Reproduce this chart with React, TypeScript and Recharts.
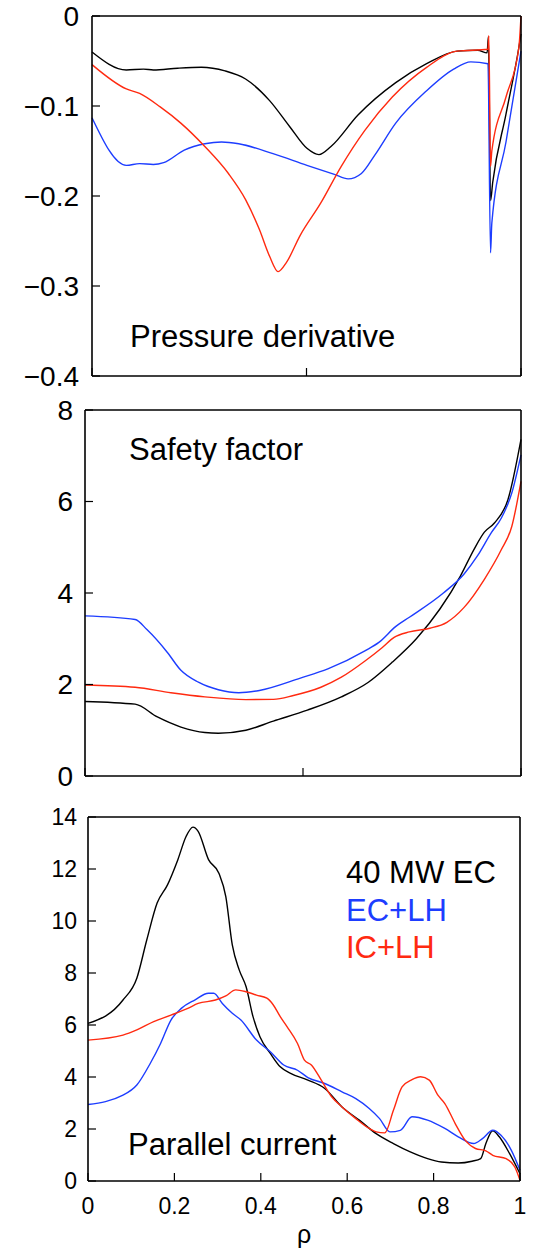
import React from 'react'
import { LineChart, Line, XAxis, YAxis } from 'recharts'

// pressure derivative
const pdRhoK = [0, 0.08, 0.12, 0.143, 0.2, 0.255, 0.31, 0.358, 0.414, 0.461, 0.501, 0.529, 0.557, 0.62, 0.708, 0.78, 0.851, 0.899, 0.921, 0.924, 0.929, 0.934, 0.965, 0.995, 1.0]
const pdK = [-0.040, -0.060, -0.059, -0.060, -0.058, -0.057, -0.061, -0.070, -0.094, -0.123, -0.147, -0.154, -0.145, -0.110, -0.074, -0.053, -0.039, -0.038, -0.041, -0.023, -0.205, -0.185, -0.109, -0.035, -0.02]
const pdRhoB = [0, 0.08, 0.111, 0.143, 0.167, 0.215, 0.263, 0.302, 0.342, 0.422, 0.501, 0.565, 0.597, 0.628, 0.66, 0.708, 0.78, 0.843, 0.883, 0.923, 0.929, 0.932, 0.965, 1.0]
const pdB = [-0.113, -0.166, -0.164, -0.165, -0.163, -0.149, -0.142, -0.140, -0.142, -0.153, -0.166, -0.176, -0.181, -0.175, -0.154, -0.119, -0.083, -0.059, -0.051, -0.053, -0.263, -0.23, -0.14, -0.039]
const pdRhoR = [0, 0.08, 0.111, 0.159, 0.207, 0.263, 0.318, 0.358, 0.39, 0.414, 0.434, 0.453, 0.485, 0.533, 0.581, 0.636, 0.7, 0.78, 0.851, 0.923, 0.925, 0.929, 0.932, 0.965, 0.995, 1.0]
const pdR = [-0.054, -0.081, -0.086, -0.101, -0.119, -0.145, -0.175, -0.204, -0.237, -0.267, -0.284, -0.274, -0.244, -0.208, -0.167, -0.127, -0.090, -0.057, -0.039, -0.037, -0.022, -0.167, -0.15, -0.09, -0.035, 0]

// safety factor
const qRhoK = [0, 0.115, 0.166, 0.22, 0.275, 0.306, 0.369, 0.432, 0.51, 0.588, 0.65, 0.705, 0.76, 0.814, 0.861, 0.892, 0.916, 0.939, 0.97, 1.0]
const qK = [1.63, 1.57, 1.29, 1.07, 0.95, 0.935, 1.0, 1.2, 1.44, 1.73, 2.05, 2.49, 3.0, 3.65, 4.37, 4.95, 5.33, 5.53, 6.04, 7.36]
const qRhoB = [0, 0.115, 0.142, 0.189, 0.22, 0.26, 0.306, 0.353, 0.4, 0.494, 0.557, 0.643, 0.674, 0.713, 0.744, 0.822, 0.869, 0.9, 0.932, 0.955, 0.979, 1.0]
const qB = [3.5, 3.42, 3.2, 2.7, 2.31, 2.05, 1.885, 1.82, 1.87, 2.14, 2.34, 2.74, 2.92, 3.27, 3.47, 4.0, 4.41, 4.81, 5.32, 5.64, 6.19, 7.02]
const qRhoR = [0, 0.115, 0.197, 0.275, 0.369, 0.432, 0.478, 0.541, 0.588, 0.643, 0.682, 0.709, 0.744, 0.791, 0.83, 0.869, 0.916, 0.955, 0.979, 1.0]
const qR = [1.99, 1.94, 1.82, 1.73, 1.67, 1.675, 1.76, 1.94, 2.16, 2.52, 2.81, 3.03, 3.15, 3.23, 3.36, 3.68, 4.3, 4.95, 5.46, 6.44]

// parallel current
const jRhoK = [0, 0.081, 0.113, 0.136, 0.16, 0.184, 0.208, 0.227, 0.243, 0.255, 0.279, 0.303, 0.319, 0.334, 0.35, 0.366, 0.382, 0.398, 0.422, 0.445, 0.469, 0.509, 0.548, 0.588, 0.628, 0.667, 0.707, 0.746, 0.786, 0.818, 0.857, 0.889, 0.909, 0.921, 0.937, 0.952, 0.976, 1.0]
const jK = [6.06, 6.96, 7.8, 9.27, 10.69, 11.39, 12.36, 13.25, 13.61, 13.45, 12.36, 11.84, 10.94, 9.08, 8.12, 7.47, 6.32, 5.55, 4.91, 4.39, 4.14, 3.88, 3.56, 2.85, 2.34, 1.82, 1.44, 1.12, 0.86, 0.73, 0.69, 0.76, 0.86, 1.44, 1.93, 1.7, 1.05, 0.28]
const jRhoB = [0, 0.081, 0.113, 0.144, 0.168, 0.192, 0.216, 0.247, 0.279, 0.291, 0.311, 0.334, 0.354, 0.39, 0.422, 0.453, 0.485, 0.509, 0.548, 0.588, 0.62, 0.651, 0.675, 0.699, 0.723, 0.75, 0.786, 0.826, 0.857, 0.893, 0.913, 0.937, 0.956, 0.98, 1.0]
const jB = [2.94, 3.3, 3.69, 4.52, 5.29, 6.19, 6.64, 6.96, 7.22, 7.22, 6.83, 6.45, 6.19, 5.42, 4.97, 4.46, 4.26, 3.98, 3.75, 3.43, 3.17, 2.79, 2.4, 1.89, 1.95, 2.47, 2.34, 2.02, 1.7, 1.44, 1.63, 1.95, 1.76, 1.18, 0.41]
const jRhoR = [0, 0.081, 0.113, 0.152, 0.192, 0.231, 0.255, 0.295, 0.319, 0.342, 0.366, 0.39, 0.414, 0.429, 0.445, 0.461, 0.485, 0.501, 0.517, 0.54, 0.564, 0.588, 0.62, 0.651, 0.667, 0.687, 0.707, 0.727, 0.75, 0.77, 0.79, 0.81, 0.826, 0.85, 0.873, 0.897, 0.921, 0.937, 0.968, 0.988, 1.0]
const jR = [5.42, 5.61, 5.81, 6.13, 6.38, 6.64, 6.83, 6.96, 7.12, 7.35, 7.28, 7.15, 7.03, 6.77, 6.32, 5.93, 5.29, 4.65, 4.46, 3.88, 3.24, 2.85, 2.4, 2.02, 1.89, 1.85, 2.72, 3.62, 3.9, 4.01, 3.88, 3.3, 2.98, 2.21, 1.57, 1.25, 1.16, 0.99, 0.86, 0.54, 0.03]

const pdTicks = [0, -0.1, -0.2, -0.3, -0.4]
const qTicks = [0, 2, 4, 6, 8]
const jTicks = [0, 2, 4, 6, 8, 10, 12, 14]
const coarseX = [0, 0.5, 1]
const fineX = [0, 0.2, 0.4, 0.6, 0.8, 1]

const BLACK = '#000000'
const BLUE = '#1d3dff'
const RED = '#ff2a10'
const FONT = '"Liberation Sans", Arial, Helvetica, sans-serif'

const pts = (xs: number[], ys: number[]) => xs.map((x, i) => ({ x, y: ys[i] }))
const fmt = (v: number) => (v < 0 ? '\u2212' + String(-v) : String(v))
const noLabel = () => <g />

interface PanelProps {
  top: number
  height: number
  margin: { top: number; right: number; bottom: number; left: number }
  yDomain: [number, number]
  yTicks: number[]
  xTicks: number[]
  yFont: number
  yMargin: number
  xLabels?: boolean
  series: { data: { x: number; y: number }[]; color: string }[]
}

function Panel({ top, height, margin, yDomain, yTicks, xTicks, yFont, yMargin, xLabels, series }: PanelProps) {
  const axisLine = { stroke: '#000', strokeWidth: 1.6 }
  const tickLine = { stroke: '#000', strokeWidth: 1.2 }
  return (
    <div style={{ position: 'absolute', left: 0, top }}>
      <LineChart width={536} height={height} margin={margin} style={{ overflow: 'visible' }}>
        <XAxis
          xAxisId="b" type="number" dataKey="x" domain={[0, 1]} ticks={xTicks}
          orientation="bottom" height={xLabels ? 64 : 1} tickSize={-8}
          tickMargin={xLabels ? 25 : 0} axisLine={axisLine} tickLine={tickLine}
          tick={xLabels ? { fill: '#000', fontSize: 23 } : noLabel}
          tickFormatter={fmt} interval={0}
          label={xLabels ? { value: '\u03c1', position: 'insideBottom', offset: 2, fill: '#000', fontSize: 25 } : undefined}
        />
        <XAxis
          xAxisId="t" type="number" dataKey="x" domain={[0, 1]} ticks={xTicks}
          orientation="top" height={1} tickSize={-8} axisLine={axisLine}
          tickLine={tickLine} tick={noLabel} interval={0}
        />
        <YAxis
          yAxisId="l" type="number" domain={yDomain} ticks={yTicks} width={80}
          tickSize={-8} tickMargin={yMargin} axisLine={axisLine} tickLine={tickLine}
          tick={{ fill: '#000', fontSize: yFont }} tickFormatter={fmt} interval={0}
        />
        <YAxis
          yAxisId="r" orientation="right" type="number" domain={yDomain} ticks={yTicks}
          width={1} tickSize={-8} axisLine={axisLine} tickLine={tickLine} tick={noLabel}
          interval={0}
        />
        {series.map((s, i) => (
          <Line
            key={i} xAxisId="b" yAxisId="l" data={s.data} dataKey="y" type="monotone"
            stroke={s.color} strokeWidth={1.4} dot={false} isAnimationActive={false}
          />
        ))}
      </LineChart>
    </div>
  )
}

export default function App() {
  return (
    <div style={{ position: 'absolute', left: 0, top: 0, width: 536, height: 1251, background: '#fff', fontFamily: FONT }}>
      <Panel
        top={0} height={400} margin={{ top: 15, right: 14, bottom: 23, left: 12 }}
        yDomain={[-0.4, 0]} yTicks={pdTicks} xTicks={coarseX} yFont={28} yMargin={21}
        series={[
          { data: pts(pdRhoK, pdK), color: BLACK },
          { data: pts(pdRhoB, pdB), color: BLUE },
          { data: pts(pdRhoR, pdR), color: RED },
        ]}
      />
      <Panel
        top={370} height={430} margin={{ top: 39, right: 14, bottom: 23, left: 5 }}
        yDomain={[0, 8]} yTicks={qTicks} xTicks={coarseX} yFont={28} yMargin={20}
        series={[
          { data: pts(qRhoK, qK), color: BLACK },
          { data: pts(qRhoB, qB), color: BLUE },
          { data: pts(qRhoR, qR), color: RED },
        ]}
      />
      <Panel
        top={790} height={461} margin={{ top: 26, right: 15, bottom: 6, left: 8 }}
        yDomain={[0, 14]} yTicks={jTicks} xTicks={fineX} yFont={23} yMargin={19} xLabels
        series={[
          { data: pts(jRhoK, jK), color: BLACK },
          { data: pts(jRhoB, jB), color: BLUE },
          { data: pts(jRhoR, jR), color: RED },
        ]}
      />
      <svg width={536} height={1251} style={{ position: 'absolute', left: 0, top: 0, pointerEvents: 'none' }}>
        <g fontSize={31} fontFamily={FONT}>
          <text x={130} y={347} fill="#000">Pressure derivative</text>
          <text x={129} y={460} fill="#000">Safety factor</text>
          <text x={128} y={1155} fill="#000">Parallel current</text>
          <text x={346} y={883} fill={BLACK}>40 MW EC</text>
          <text x={346} y={921} fill={BLUE}>EC+LH</text>
          <text x={346} y={958} fill={RED}>IC+LH</text>
        </g>
      </svg>
    </div>
  )
}
